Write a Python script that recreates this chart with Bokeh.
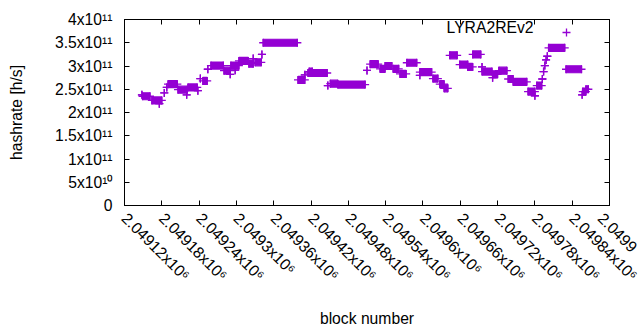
import math
import numpy as np
from bokeh.plotting import figure
from bokeh.models import (FixedTicker, CustomJSTickFormatter, LinearAxis, Legend,
                          LegendItem, ColumnDataSource, Range1d, Label)
from bokeh.core.properties import value
from bokeh.embed import file_html
from bokeh.resources import INLINE

# ---- data: runs of blocks with a constant hashrate (h/s) ----
run_start = [2049088, 2049089, 2049104, 2049116, 2049124, 2049128, 2049130, 2049146, 2049160,
             2049162, 2049178, 2049182, 2049186, 2049194, 2049199, 2049220, 2049230, 2049231,
             2049238, 2049244, 2049260, 2049267, 2049270, 2049281, 2049283, 2049339, 2049350,
             2049355, 2049357, 2049387, 2049391, 2049403, 2049450, 2049455, 2049471, 2049479,
             2049492, 2049503, 2049514, 2049535, 2049535, 2049556, 2049567, 2049574, 2049583,
             2049599, 2049612, 2049620, 2049635, 2049635, 2049652, 2049652, 2049662, 2049677,
             2049685, 2049709, 2049720, 2049723, 2049732, 2049734, 2049736, 2049738, 2049740,
             2049742, 2049770, 2049796, 2049797, 2049802]
run_end = [2049088, 2049101, 2049120, 2049116, 2049124, 2049128, 2049145, 2049161, 2049160,
           2049177, 2049178, 2049182, 2049193, 2049194, 2049219, 2049230, 2049230, 2049244,
           2049238, 2049259, 2049267, 2049267, 2049280, 2049281, 2049338, 2049350, 2049350,
           2049386, 2049362, 2049387, 2049403, 2049447, 2049450, 2049468, 2049479, 2049490,
           2049501, 2049513, 2049530, 2049535, 2049554, 2049564, 2049574, 2049580, 2049595,
           2049612, 2049620, 2049633, 2049635, 2049651, 2049652, 2049660, 2049675, 2049685,
           2049707, 2049720, 2049720, 2049731, 2049732, 2049734, 2049736, 2049738, 2049740,
           2049768, 2049795, 2049796, 2049802, 2049806]
run_value = [2.38e11, 2.35e11, 2.26e11, 2.19e11, 2.42e11, 2.54e11, 2.61e11, 2.49e11, 2.38e11,
             2.54e11, 2.47e11, 2.73e11, 2.68e11, 2.93e11, 3.01e11, 2.90e11, 2.82e11, 3.01e11,
             2.91e11, 3.11e11, 3.05e11, 3.16e11, 3.08e11, 3.25e11, 3.50e11, 2.70e11, 2.81e11,
             2.85e11, 2.88e11, 2.58e11, 2.62e11, 2.60e11, 2.905e11, 3.04e11, 2.94e11, 3.00e11,
             2.94e11, 2.83e11, 3.07e11, 2.80e11, 2.87e11, 2.73e11, 2.61e11, 2.52e11, 3.23e11,
             3.03e11, 2.98e11, 3.25e11, 2.98e11, 2.88e11, 2.75e11, 2.82e11, 2.90e11, 2.72e11,
             2.66e11, 2.45e11, 2.36e11, 2.58e11, 2.72e11, 2.88e11, 3.01e11, 3.13e11, 3.21e11,
             3.39e11, 2.93e11, 2.38e11, 2.45e11, 2.50e11]

# x tick marks every 60 blocks; each rotated label starts one tick to the left of its value
x_ticks = [2049060, 2049120, 2049180, 2049240, 2049300, 2049360, 2049420, 2049480,
           2049540, 2049600, 2049660, 2049720, 2049780, 2049840]
x_tick_labels = ["2.04912x10⁶", "2.04918x10⁶", "2.04924x10⁶", "2.0493x10⁶", "2.04936x10⁶",
                 "2.04942x10⁶", "2.04948x10⁶", "2.04954x10⁶", "2.0496x10⁶", "2.04966x10⁶",
                 "2.04972x10⁶", "2.04978x10⁶", "2.04984x10⁶", "2.0499"]
y_ticks = [0, 5e10, 1e11, 1.5e11, 2e11, 2.5e11, 3e11, 3.5e11, 4e11]
y_tick_labels = ["0", "5x10¹⁰", "1x10¹¹", "1.5x10¹¹", "2x10¹¹", "2.5x10¹¹", "3x10¹¹",
                 "3.5x10¹¹", "4x10¹¹"]

series_name = "LYRA2REv2"
COLOR = "#9400D3"
FONT = "Liberation Sans"
FS = "15.7px"

p = figure(width=640, height=330,
           x_range=Range1d(2049060, 2049840), y_range=Range1d(0, 4e11),
           output_backend="svg", toolbar_location=None,
           min_border_left=124, min_border_right=31, min_border_top=19, min_border_bottom=120,
           x_axis_label="block number", y_axis_label="hashrate [h/s]")
bottom = p.below[0]
left = p.left[0]
p.xgrid.visible = False
p.ygrid.visible = False
p.outline_line_color = "black"
p.outline_line_width = 1
p.background_fill_color = "white"

# dense runs: filled band plus crosses at both ends
s = np.array(run_start, dtype=float)
e = np.array(run_end, dtype=float)
v = np.array(run_value, dtype=float)
multi = e > s
band = ColumnDataSource(dict(x=(s[multi] + e[multi]) / 2, y=v[multi], w=(e[multi] - s[multi])))
p.rect(x="x", y="y", width="w", height=7, height_units="screen", source=band,
       fill_color=COLOR, line_color=COLOR, line_width=1.2)
pts = ColumnDataSource(dict(x=np.concatenate([s, e]), y=np.concatenate([v, v])))
r = p.scatter(x="x", y="y", source=pts, marker="cross", size=8, line_color=COLOR, line_width=1.3)

fmt_code = """
let best = 0, bd = Infinity;
for (let i = 0; i < tv.length; i++) { const d = Math.abs(tv[i] - tick); if (d < bd) { bd = d; best = i; } }
return tl[best];
"""
bottom.ticker = FixedTicker(ticks=x_ticks)
bottom.formatter = CustomJSTickFormatter(args=dict(tv=x_ticks, tl=x_tick_labels), code=fmt_code)
bottom.major_label_orientation = -math.pi / 4
left.ticker = FixedTicker(ticks=y_ticks)
left.formatter = CustomJSTickFormatter(args=dict(tv=y_ticks, tl=y_tick_labels), code=fmt_code)

blank = CustomJSTickFormatter(code="return ''")
top = LinearAxis(ticker=FixedTicker(ticks=x_ticks), formatter=blank, major_label_standoff=0)
right = LinearAxis(ticker=FixedTicker(ticks=y_ticks), formatter=blank, major_label_standoff=0)
p.add_layout(top, "above")
p.add_layout(right, "right")

for ax in [bottom, left, top, right]:
    ax.axis_line_color = "black"
    ax.major_tick_line_color = "black"
    ax.major_tick_in = 5
    ax.major_tick_out = 0
    ax.minor_tick_line_color = None
    ax.major_label_text_font = FONT
    ax.major_label_text_font_size = FS
    ax.major_label_text_color = "black"
    ax.axis_label_text_font = FONT
    ax.axis_label_text_font_style = "normal"
    ax.axis_label_text_font_size = FS
    ax.axis_label_text_color = "black"
left.major_label_standoff = 12
left.axis_label_standoff = 27
bottom.major_label_standoff = 10
bottom.axis_label_standoff = 17

# key: text to the left of the point sample
legend = Legend(items=[LegendItem(label=value(""), renderers=[r])],
                location=(432, 163), padding=0, spacing=0, margin=0,
                glyph_width=20, glyph_height=20, label_standoff=0,
                label_text_font=FONT, label_text_font_size=FS,
                border_line_alpha=0, background_fill_alpha=0)
p.add_layout(legend)
p.add_layout(Label(x=409, y=191 - 12.5, x_units="screen", y_units="screen", text=series_name,
                   text_font=FONT, text_font_size=FS, text_align="right",
                   text_baseline="middle", text_color="black"))

open("out.html", "w").write(file_html(p, INLINE))
